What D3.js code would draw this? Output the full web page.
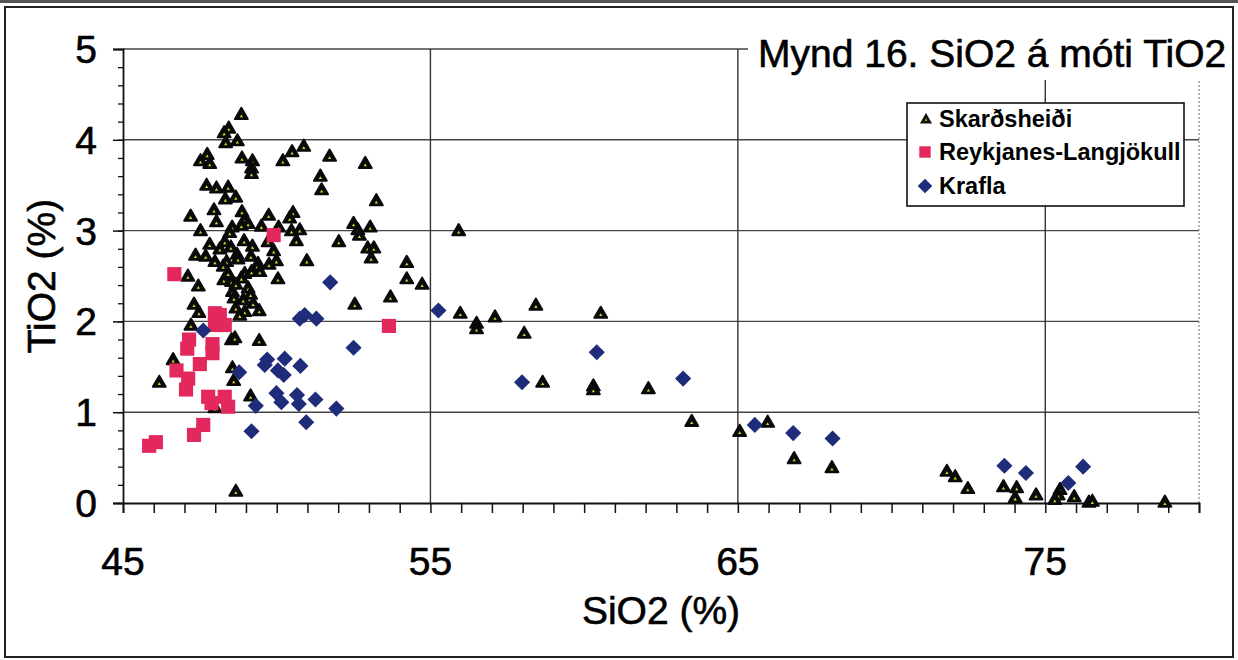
<!DOCTYPE html>
<html><head><meta charset="utf-8">
<script src="https://cdn.jsdelivr.net/npm/d3@7"></script>
<style>
html,body{margin:0;padding:0;background:#fff;}
text{font-family:"Liberation Sans",Arial,sans-serif;fill:#000;}
.heavy{stroke:#000;stroke-width:0.6px;}
</style></head>
<body><svg id="c" width="1238" height="660"></svg>
<script>
// ---- data ----
const skarX=[48.85,48.44,48.29,48.34,48.72,47.74,47.52,47.82,48.87,49.21,49.18,49.18,50.2,50.5,50.88,47.72,48.04,48.42,48.33,48.67,47.2,47.96,48.04,48.87,48.96,49.07,48.85,49.74,50.53,50.42,47.52,48.55,48.47,49.5,50.06,50.48,50.75,50.64,49.72,49.9,47.82,48.31,48.51,48.94,49.21,47.36,47.69,48.15,48.71,49.16,47.99,48.37,48.26,48.74,49.39,49.99,49.75,50.98,47.11,47.45,48.42,48.96,49.18,49.36,49.45,48.28,48.53,48.85,48.67,50.04,49.07,48.56,48.61,49.15,48.91,49.23,47.31,47.47,48.67,49.43,48.96,48.8,47.21,48.53,48.64,49.43,46.63,48.56,48.6,46.18,49.15,47.99,48.67,51.72,52.88,51.42,51.46,53.24,52.5,52.64,52.69,53.04,52.02,52.96,53.16,53.07,54.23,54.23,54.73,53.7,52.54,55.92,55.97,56.5,56.5,57.1,58.43,60.54,58.05,58.65,60.3,60.3,62.09,63.5,65.06,65.97,66.83,68.06,71.8,72.07,72.48,73.64,74.07,74.02,74.7,75.48,75.42,75.31,75.94,76.42,76.53,78.89];
const skarY=[4.27,4.12,4.07,3.96,3.98,3.83,3.76,3.73,3.79,3.76,3.68,3.62,3.76,3.86,3.92,3.49,3.46,3.47,3.34,3.36,3.15,3.22,3.09,3.2,3.11,3.07,3.05,3.16,3.19,3.13,2.99,3.03,2.97,3.04,3.03,2.99,3.0,2.88,2.87,2.77,2.84,2.87,2.81,2.88,2.82,2.72,2.71,2.79,2.73,2.71,2.65,2.65,2.6,2.68,2.63,2.66,2.62,2.66,2.49,2.38,2.52,2.52,2.54,2.6,2.54,2.45,2.43,2.47,2.4,2.46,2.36,2.32,2.25,2.29,2.23,2.19,2.18,2.09,2.14,2.11,2.1,2.06,1.95,1.79,1.81,1.78,1.57,1.48,1.34,1.32,1.17,1.04,0.12,3.81,3.73,3.59,3.44,3.32,3.07,3.0,2.94,3.03,2.87,2.8,2.8,2.69,2.64,2.46,2.4,2.26,2.18,2.99,2.08,1.97,1.91,2.04,2.17,2.08,1.86,1.32,1.28,1.24,1.25,0.89,0.78,0.88,0.48,0.38,0.34,0.28,0.15,0.17,0.16,0.05,0.08,0.14,0.08,0.03,0.06,0.0,0.01,0.0];
const reykX=[45.85,46.07,46.67,47.15,47.09,46.74,47.12,47.05,47.5,47.91,47.91,47.99,48.15,47.99,48.31,47.77,48.31,47.88,48.42,47.61,47.31,49.9,53.65];
const reykY=[0.63,0.67,2.52,1.8,1.7,1.46,1.37,1.25,1.53,1.75,1.65,2.09,2.07,1.96,1.96,1.17,1.17,1.1,1.06,0.86,0.75,2.95,1.95];
const kraflaX=[47.61,50.75,50.91,51.29,51.74,52.5,49.69,50.26,49.61,50.04,50.23,50.77,48.78,49.99,50.15,50.66,50.72,49.32,51.26,51.94,50.96,49.18,55.26,60.41,57.98,63.22,65.55,66.8,68.08,73.67,74.37,75.75,76.23];
const kraflaY=[1.9,2.03,2.07,2.03,2.43,1.71,1.58,1.59,1.52,1.46,1.41,1.51,1.44,1.21,1.11,1.19,1.09,1.07,1.14,1.04,0.89,0.79,2.12,1.66,1.33,1.37,0.86,0.77,0.71,0.41,0.33,0.22,0.4];
const xTicks=[45,55,65,75];
const yTicks=[0,1,2,3,4,5];
const seriesNames=["Skarðsheiði","Reykjanes-Langjökull","Krafla"];
const titleText="Mynd 16. SiO2 á móti TiO2";
const xTitle="SiO2 (%)", yTitle="TiO2 (%)";

// ---- layout ----
const svg=d3.select("#c");
const L=123,R=1199,T=49,B=503;
const x=d3.scaleLinear().domain([45,80]).range([L,R]);
const y=d3.scaleLinear().domain([0,5]).range([B,T]);

svg.append("rect").attr("width",1238).attr("height",660).attr("fill","#fff");
// outer frame
svg.append("rect").attr("x",5).attr("y",7).attr("width",1228).attr("height",650)
  .attr("fill","none").attr("stroke","#222").attr("stroke-width",2);
svg.append("line").attr("x1",0).attr("x2",1238).attr("y1",1.5).attr("y2",1.5).attr("stroke","#555").attr("stroke-width",3);

// gridlines
const g=svg.append("g");
g.selectAll(".hg").data(yTicks.filter(d=>d>0)).join("line")
  .attr("x1",L).attr("x2",R).attr("y1",d=>y(d)).attr("y2",d=>y(d))
  .attr("stroke","#444").attr("stroke-width",1.4);
g.selectAll(".vg").data(xTicks.filter(d=>d>45)).join("line")
  .attr("x1",d=>x(d)).attr("x2",d=>x(d)).attr("y1",T).attr("y2",B)
  .attr("stroke","#333").attr("stroke-width",1.4);
g.append("line").attr("x1",R).attr("x2",R).attr("y1",T).attr("y2",B)
  .attr("stroke","#888").attr("stroke-width",1.2).attr("stroke-dasharray","2,2");

// axes
const xAxis=d3.axisBottom(x).tickValues(d3.range(45,81,1)).tickSize(10).tickFormat("");
svg.append("g").attr("transform",`translate(0,${B})`).call(xAxis)
  .call(a=>{a.select(".domain").attr("stroke","#111").attr("stroke-width",1.8);a.selectAll(".tick line").attr("stroke","#111").attr("stroke-width",1.5);});
svg.append("g").selectAll("text").data(xTicks).join("text").attr("class","heavy")
  .attr("x",d=>x(d)).attr("y",575).attr("text-anchor","middle")
  .style("font-size","39px").text(d=>d);

const yMinor=d3.axisLeft(y).tickValues(d3.range(0,5.01,0.2)).tickSize(5).tickFormat("");
svg.append("g").attr("transform",`translate(${L},0)`).call(yMinor)
  .call(a=>{a.select(".domain").remove();a.selectAll(".tick line").attr("stroke","#111").attr("stroke-width",1.3);});
const yAxis=d3.axisLeft(y).tickValues(yTicks).tickSize(10).tickFormat("");
svg.append("g").attr("transform",`translate(${L},0)`).call(yAxis)
  .call(a=>{a.select(".domain").attr("stroke","#111").attr("stroke-width",1.8);a.selectAll(".tick line").attr("stroke","#111").attr("stroke-width",1.5);});
svg.append("g").selectAll("text").data(yTicks).join("text").attr("class","heavy")
  .attr("x",97).attr("y",d=>y(d)+14).attr("text-anchor","end")
  .style("font-size","39px").text(d=>d);

// axis titles
svg.append("text").attr("class","heavy").attr("x",(L+R)/2).attr("y",624).attr("text-anchor","middle")
  .style("font-size","39px").text(xTitle);
svg.append("text").attr("class","heavy").attr("transform",`translate(55,${(T+B)/2}) rotate(-90)`).attr("text-anchor","middle")
  .style("font-size","39px").text(yTitle);

// markers
const triPath=d3.symbol().type(d3.symbolTriangle).size(72)();
const triIn=d3.symbol().type(d3.symbolTriangle).size(4.5)();
const sqPath=d3.symbol().type(d3.symbolSquare).size(200)();
const diaPath=d3.symbol().type(d3.symbolSquare).size(130)();
const skar=skarX.map((v,i)=>[v,skarY[i]]);
const reyk=reykX.map((v,i)=>[v,reykY[i]]);
const kraf=kraflaX.map((v,i)=>[v,kraflaY[i]]);
const m=svg.append("g");
const tg=m.selectAll(".t").data(skar).join("g").attr("transform",d=>`translate(${x(d[0])},${y(d[1])})`);
tg.append("path").attr("d",triPath).attr("fill","#0a0a0a").attr("stroke","#0a0a0a").attr("stroke-width",2).attr("stroke-linejoin","round");
tg.append("path").attr("d",triIn).attr("transform","translate(0,1)").attr("fill","#d8d820");
m.selectAll(".s").data(reyk).join("path").attr("d",sqPath)
  .attr("transform",d=>`translate(${x(d[0])},${y(d[1])})`).attr("fill","#e2285c");
m.selectAll(".k").data(kraf).join("path").attr("d",diaPath)
  .attr("transform",d=>`translate(${x(d[0])},${y(d[1])}) rotate(45)`).attr("fill","#1e2c7a");

// title
svg.append("rect").attr("x",748).attr("y",28).attr("width",484).attr("height",52).attr("fill","#fff");
svg.append("text").attr("class","heavy").attr("x",758).attr("y",67).style("font-size","39px").text(titleText);

// legend
const lg=svg.append("g");
lg.append("rect").attr("x",907).attr("y",103).attr("width",277).attr("height",103)
  .attr("fill","#fff").attr("stroke","#111").attr("stroke-width",1.6);
const rowsY=[127,160,194];
seriesNames.forEach((n,i)=>{
  lg.append("text").attr("x",939).attr("y",rowsY[i]).style("font-size","23.5px").style("font-weight","bold").text(n);
});
const l0=lg.append("g").attr("transform",`translate(926,${rowsY[0]-7})`);
l0.append("path").attr("d",d3.symbol().type(d3.symbolTriangle).size(40)()).attr("fill","#111").attr("stroke","#111").attr("stroke-width",1.4);
l0.append("path").attr("d",d3.symbol().type(d3.symbolTriangle).size(3)()).attr("fill","#d8d820");
lg.append("path").attr("d",d3.symbol().type(d3.symbolSquare).size(130)()).attr("transform",`translate(925,${rowsY[1]-8})`).attr("fill","#e2285c");
lg.append("path").attr("d",d3.symbol().type(d3.symbolSquare).size(105)()).attr("transform",`translate(925,${rowsY[2]-8}) rotate(45)`).attr("fill","#1e2c7a");
</script></body></html>
